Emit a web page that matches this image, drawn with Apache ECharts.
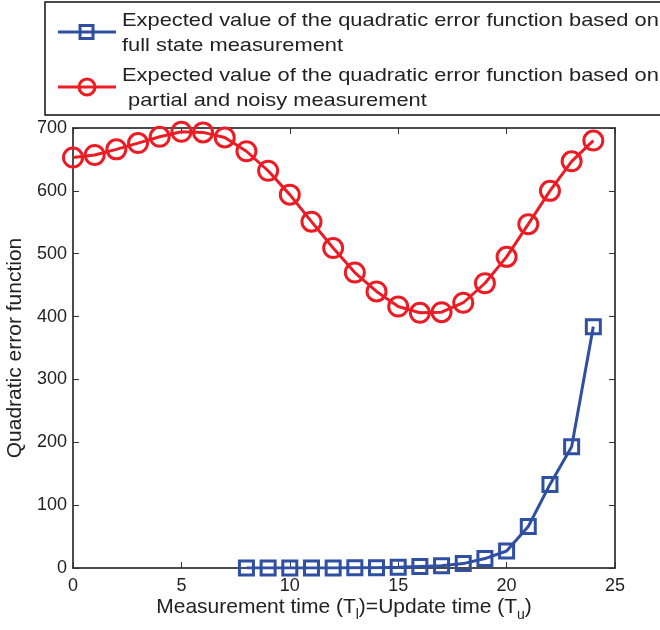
<!DOCTYPE html>
<html>
<head>
<meta charset="utf-8">
<script src="https://cdn.jsdelivr.net/npm/echarts@6/dist/echarts.min.js"></script>
<style>html,body{margin:0;padding:0;background:#fff;}#c{width:660px;height:630px;}</style>
</head>
<body>
<div id="c"></div>
<script>
// Data
const xFull = [8, 9, 10, 11, 12, 13, 14, 15, 16, 17, 18, 19, 20, 21, 22, 23, 24];
const yFull = [0, 0, 0, 0, 0, 0.5, 0.5, 1, 2.5, 3.5, 7, 15, 27, 66, 133, 193, 384];
const xPartial = [0, 1, 2, 3, 4, 5, 6, 7, 8, 9, 10, 11, 12, 13, 14, 15, 16, 17, 18, 19, 20, 21, 22, 23, 24];
const yPartial = [653, 657, 666, 676, 686, 694, 693, 685, 663, 632, 594, 551, 509, 470, 440, 416, 406, 407, 422, 453, 495, 547, 600, 647, 680];
const xTicks = [0, 5, 10, 15, 20, 25];
const yTicks = [0, 100, 200, 300, 400, 500, 600, 700];
const nameFull = 'Expected value of the quadratic error function based on\nfull state measurement';
const namePartial = 'Expected value of the quadratic error function based on\n partial and noisy measurement';

const blue = '#2f4fa3';
const red = '#ec1c24';
const FONT = '"Liberation Sans", Arial, sans-serif';

const chart = echarts.init(document.getElementById('c'), null, {renderer: 'canvas'});
const mkAxis = (extra) => Object.assign({
  axisLine: {show: true, onZero: false, lineStyle: {color: '#111', width: 1.5}},
  axisTick: {show: true, inside: true, length: 6, lineStyle: {color: '#333', width: 1}},
  splitLine: {show: false}
}, extra);

function legendItem(y, name, symbol, color) {
  const sym = symbol === 'rect'
    ? {type: 'rect', shape: {x: 80, y: y - 6.5, width: 13, height: 13}, style: {fill: 'none', stroke: color, lineWidth: 3}}
    : {type: 'circle', shape: {cx: 87, cy: y, r: 8}, style: {fill: 'none', stroke: color, lineWidth: 3}};
  return [
    {type: 'line', shape: {x1: 58, y1: y, x2: 116, y2: y}, style: {stroke: color, lineWidth: 3}},
    sym,
    {type: 'text', x: 122, y: y - 24, scaleX: 1.15,
     style: {text: name, font: '19px ' + FONT, fill: '#222', lineHeight: 25, textVerticalAlign: 'top'}}
  ];
}

chart.setOption({
  animation: false,
  backgroundColor: '#fff',
  textStyle: {fontFamily: FONT},
  grid: {left: 73, right: 45, top: 128, bottom: 62, outerBoundsMode: 'none', containLabel: false},
  graphic: [
    {type: 'rect', shape: {x: 45, y: 2, width: 640, height: 113},
     style: {fill: 'none', stroke: '#111', lineWidth: 1.5}}
  ].concat(legendItem(32, nameFull, 'rect', blue), legendItem(87, namePartial, 'circle', red)),
  xAxis: [
    mkAxis({
      type: 'value', min: xTicks[0], max: xTicks[xTicks.length - 1], interval: 5,
      position: 'bottom',
      axisLabel: {fontFamily: FONT, fontSize: 18, color: '#222', margin: 9},
      name: 'Measurement time (T{sub|l})=Update time (T{sub|u})',
      nameLocation: 'middle', nameGap: 27, nameMoveOverlap: false,
      nameTextStyle: {
        fontFamily: FONT, fontSize: 21, color: '#222', lineHeight: 24,
        rich: {sub: {fontFamily: FONT, fontSize: 14, color: '#222', lineHeight: 14, padding: [16, 0, 0, 0]}}
      }
    }),
    mkAxis({
      type: 'value', min: 0, max: 25, interval: 5, position: 'top',
      axisLabel: {show: false}
    })
  ],
  yAxis: [
    mkAxis({
      type: 'value', min: yTicks[0], max: yTicks[yTicks.length - 1], interval: 100,
      position: 'left',
      axisLabel: {fontFamily: FONT, fontSize: 18, color: '#222', margin: 6},
      name: 'Quadratic error function',
      nameLocation: 'middle', nameGap: 46, nameRotate: 90,
      nameTextStyle: {fontFamily: FONT, fontSize: 21, color: '#222'}
    }),
    mkAxis({
      type: 'value', min: 0, max: 700, interval: 100, position: 'right',
      axisLabel: {show: false}
    })
  ],
  series: [
    {
      name: nameFull,
      type: 'line',
      xAxisIndex: 0, yAxisIndex: 0,
      data: xFull.map((x, i) => [x, yFull[i]]),
      symbol: 'rect',
      symbolSize: 14,
      showAllSymbol: true,
      lineStyle: {color: blue, width: 3},
      itemStyle: {color: 'rgba(255,255,255,0)', borderColor: blue, borderWidth: 3},
      z: 3
    },
    {
      name: namePartial,
      type: 'line',
      xAxisIndex: 0, yAxisIndex: 0,
      data: xPartial.map((x, i) => [x, yPartial[i]]),
      symbol: 'circle',
      symbolSize: 19,
      showAllSymbol: true,
      lineStyle: {color: red, width: 3},
      itemStyle: {color: 'rgba(255,255,255,0)', borderColor: red, borderWidth: 3},
      z: 2
    }
  ]
});
</script>
</body>
</html>
